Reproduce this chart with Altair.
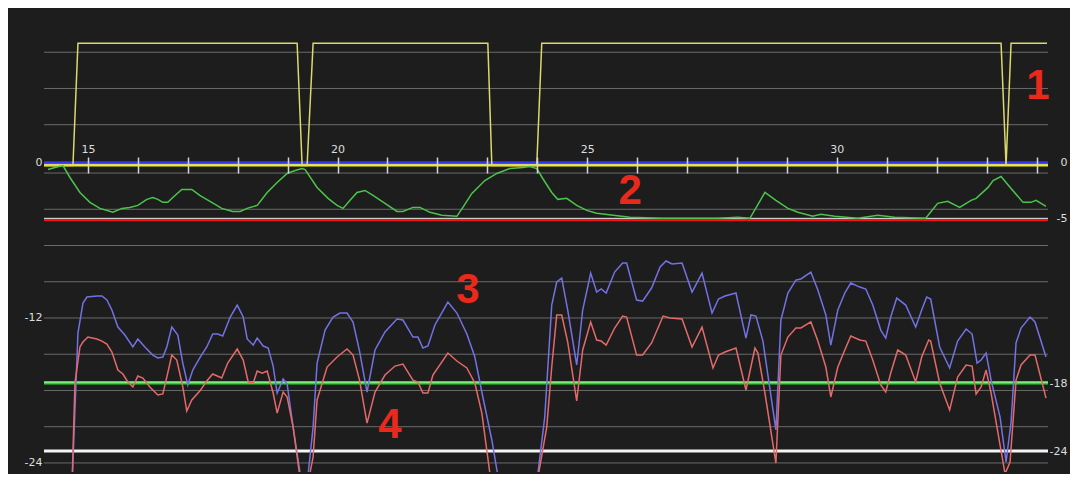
import altair as alt
import pandas as pd

# ---------------- data ----------------
gate = [(14.12, 0), (14.70, 0), (14.80, 1), (19.19, 1), (19.29, 0), (19.39, 0), (19.51, 1),
        (23.01, 1), (23.09, 0), (23.99, 0), (24.09, 1), (33.29, 1), (33.39, 0), (33.49, 1),
        (34.21, 1)]

env = [(14.20, -0.63), (14.34, -0.45), (14.50, -0.27), (14.64, -1.34), (14.84, -2.68), (15.04, -3.57),
       (15.24, -4.11), (15.50, -4.46), (15.68, -4.11), (15.84, -4.02), (16.00, -3.84), (16.18, -3.30),
       (16.30, -3.13), (16.40, -3.30), (16.50, -3.57), (16.60, -3.57), (16.70, -3.13), (16.88, -2.41),
       (17.08, -2.41), (17.24, -2.95), (17.48, -3.57), (17.68, -4.11), (17.90, -4.38), (18.05, -4.38),
       (18.19, -4.11), (18.39, -3.84), (18.59, -2.68), (18.79, -1.79), (18.99, -0.98), (19.15, -0.71),
       (19.29, -0.54), (19.35, -0.63), (19.59, -2.23), (19.81, -3.21), (19.99, -3.84), (20.11, -4.11),
       (20.25, -3.39), (20.39, -2.68), (20.55, -2.50), (20.71, -2.95), (20.95, -3.66), (21.19, -4.38),
       (21.31, -4.38), (21.51, -4.02), (21.65, -4.02), (21.85, -4.46), (22.09, -4.73), (22.39, -4.82),
       (22.51, -4.02), (22.69, -2.77), (22.95, -1.61), (23.19, -0.98), (23.45, -0.54), (23.71, -0.45),
       (23.85, -0.36), (23.99, -0.54), (24.11, -1.43), (24.29, -2.68), (24.41, -3.30), (24.59, -3.21),
       (24.79, -3.84), (24.99, -4.29), (25.19, -4.55), (25.52, -4.73), (25.86, -4.91), (26.50, -5.00),
       (27.62, -5.00), (28.02, -4.91), (28.26, -5.00), (28.56, -2.68), (28.78, -3.39), (29.02, -4.11),
       (29.22, -4.46), (29.52, -4.82), (29.68, -4.64), (29.96, -4.82), (30.42, -5.00), (30.82, -4.73),
       (31.16, -4.91), (31.78, -5.00), (32.02, -3.66), (32.22, -3.48), (32.46, -4.02), (32.69, -3.39),
       (32.79, -3.21), (33.03, -2.23), (33.13, -1.61), (33.29, -1.25), (33.49, -2.32), (33.73, -3.57),
       (33.89, -3.57), (33.99, -3.39), (34.19, -3.93)]

blue = [(14.68, -26.0), (14.80, -13.25), (14.90, -10.76), (14.98, -10.26), (15.18, -10.18), (15.28, -10.18),
        (15.38, -10.51), (15.48, -11.34), (15.60, -12.75), (15.74, -13.41), (15.90, -14.40), (16.00, -13.74),
        (16.14, -14.40), (16.30, -15.07), (16.40, -15.31), (16.50, -15.23), (16.58, -14.40), (16.68, -12.75),
        (16.80, -13.41), (16.90, -15.73), (17.00, -17.55), (17.10, -16.31), (17.24, -15.31), (17.38, -14.40),
        (17.50, -13.33), (17.60, -13.33), (17.70, -13.49), (17.85, -11.92), (17.99, -10.93), (18.11, -11.92),
        (18.19, -13.74), (18.31, -14.24), (18.39, -13.66), (18.51, -14.32), (18.61, -14.49), (18.71, -15.98),
        (18.79, -18.21), (18.91, -17.05), (18.99, -17.47), (19.11, -21.03), (19.31, -26.5), (19.37, -26.5),
        (19.51, -21.03), (19.59, -15.73), (19.75, -13.00), (19.91, -11.92), (20.05, -11.59), (20.19, -11.59),
        (20.31, -12.33), (20.44, -14.75), (20.59, -18.13), (20.75, -14.65), (20.95, -13.16), (21.19, -12.09),
        (21.31, -12.17), (21.51, -13.58), (21.61, -13.58), (21.71, -14.49), (21.81, -14.32), (21.95, -12.58),
        (22.21, -10.68), (22.39, -11.59), (22.59, -13.33), (22.75, -15.23), (22.91, -18.54), (23.09, -22.10),
        (23.29, -27.0), (23.95, -27.0), (24.15, -20.20), (24.29, -10.93), (24.39, -9.02), (24.49, -8.69),
        (24.61, -11.34), (24.79, -15.89), (24.91, -11.34), (25.07, -8.28), (25.19, -9.85), (25.28, -9.60),
        (25.38, -9.93), (25.55, -8.20), (25.71, -7.45), (25.79, -7.45), (25.99, -10.51), (26.11, -10.60),
        (26.29, -9.52), (26.46, -7.78), (26.58, -7.28), (26.70, -7.53), (26.90, -7.45), (27.10, -9.85),
        (27.30, -8.28), (27.50, -11.59), (27.63, -10.43), (27.76, -10.18), (27.98, -9.93), (28.18, -13.66),
        (28.28, -11.75), (28.38, -11.84), (28.52, -13.91), (28.78, -21.27), (28.88, -12.17), (29.02, -9.93),
        (29.18, -8.86), (29.28, -8.77), (29.48, -8.20), (29.62, -9.69), (29.78, -11.75), (29.88, -14.24),
        (30.02, -11.34), (30.16, -9.93), (30.28, -9.11), (30.46, -9.44), (30.58, -9.60), (30.72, -10.93),
        (30.88, -13.00), (30.98, -13.66), (31.08, -11.92), (31.20, -10.35), (31.38, -10.93), (31.58, -12.75),
        (31.70, -11.34), (31.80, -10.26), (31.88, -10.43), (32.06, -14.40), (32.26, -16.14), (32.42, -13.91),
        (32.59, -12.91), (32.71, -13.33), (32.81, -15.73), (32.89, -15.48), (32.99, -14.90), (33.09, -17.14),
        (33.27, -20.20), (33.39, -23.92), (33.49, -20.61), (33.59, -14.07), (33.69, -12.83), (33.87, -11.92),
        (33.97, -12.33), (34.19, -15.23)]

red = [(14.68, -26.0), (14.74, -17.38), (14.84, -14.40), (14.90, -13.99), (15.00, -13.58), (15.18, -13.74),
       (15.28, -13.91), (15.38, -14.16), (15.48, -14.82), (15.60, -16.31), (15.70, -16.64), (15.80, -17.30),
       (15.90, -17.71), (16.00, -16.80), (16.10, -16.97), (16.24, -17.71), (16.40, -18.38), (16.50, -18.29),
       (16.58, -16.89), (16.68, -15.07), (16.78, -15.48), (16.90, -17.71), (16.98, -19.70), (17.08, -18.79),
       (17.24, -18.05), (17.38, -17.22), (17.50, -16.64), (17.68, -16.97), (17.80, -15.73), (17.99, -14.57),
       (18.11, -15.48), (18.21, -17.30), (18.31, -17.38), (18.39, -16.39), (18.49, -16.56), (18.59, -16.39),
       (18.71, -18.21), (18.79, -19.87), (18.91, -18.13), (18.99, -18.54), (19.11, -21.03), (19.29, -26.5),
       (19.37, -26.5), (19.51, -23.51), (19.59, -18.79), (19.79, -16.06), (19.99, -15.23), (20.19, -14.57),
       (20.31, -15.07), (20.44, -17.14), (20.59, -20.70), (20.75, -18.13), (20.95, -16.72), (21.15, -15.98),
       (21.31, -15.81), (21.51, -17.14), (21.61, -17.30), (21.71, -18.21), (21.81, -18.21), (21.91, -16.72),
       (22.21, -14.90), (22.39, -15.56), (22.59, -16.14), (22.75, -17.38), (22.89, -19.87), (23.11, -26.7),
       (23.95, -26.7), (24.19, -21.03), (24.29, -16.06), (24.39, -11.75), (24.49, -11.75), (24.61, -13.99),
       (24.79, -18.87), (24.91, -14.65), (25.07, -12.33), (25.19, -13.83), (25.28, -13.91), (25.38, -14.24),
       (25.55, -12.83), (25.71, -11.84), (25.79, -11.92), (25.99, -15.07), (26.11, -15.07), (26.29, -14.07),
       (26.52, -11.84), (26.66, -12.00), (26.90, -12.09), (27.10, -14.40), (27.30, -12.75), (27.52, -16.14),
       (27.63, -15.07), (27.76, -14.82), (27.98, -14.49), (28.18, -17.96), (28.36, -14.49), (28.42, -14.90),
       (28.56, -18.21), (28.78, -24.01), (28.88, -15.07), (29.02, -13.58), (29.18, -12.83), (29.28, -12.83),
       (29.48, -12.33), (29.62, -13.91), (29.78, -16.06), (29.88, -18.54), (30.02, -16.06), (30.16, -14.65),
       (30.28, -13.49), (30.46, -13.82), (30.58, -13.91), (30.72, -15.48), (30.88, -17.55), (30.98, -18.13),
       (31.08, -16.56), (31.22, -14.65), (31.38, -15.07), (31.58, -17.30), (31.70, -15.23), (31.84, -13.82),
       (31.88, -13.91), (32.06, -17.38), (32.26, -19.62), (32.42, -16.89), (32.59, -15.89), (32.71, -15.98),
       (32.79, -18.29), (32.89, -17.71), (32.99, -16.31), (33.09, -18.21), (33.27, -22.52), (33.37, -24.9),
       (33.47, -23.92), (33.59, -17.14), (33.69, -15.89), (33.87, -15.07), (33.97, -15.07), (34.19, -18.63)]

grid_db = [10, 7, 4, 0, -3, -6, -9, -12, -15, -18, -21, -24]
left_db_labels = [-12, -24]
upper_marks = [0, -5]          # blue (0) and red (-5) limits of the envelope band
lower_marks = [-18, -24]       # green and white limits of the level band
x_ticks = list(range(15, 35))
note_text = ["1", "2", "3", "4"]
note_t = [34.03, 25.86, 22.61, 21.05]
note_db = [7.2, -1.49, -9.69, -20.86]

# ---------------- frames ----------------
def frame(pairs):
    return pd.DataFrame({"t": [p[0] for p in pairs], "v": [p[1] for p in pairs]})

gate_df = frame(gate)
env_df = frame(env)
blue_df = frame(blue)
red_df = frame(red)
grid_df = pd.DataFrame({"v": grid_db})
notes_df = pd.DataFrame({"t": note_t, "v": note_db, "label": note_text})

# ---------------- scales ----------------
X = alt.Scale(domain=[14.12, 34.23], nice=False, zero=False)
G = alt.Scale(domain=[-2.508, 1.2234], nice=False, zero=False)   # gate 0/1
M = alt.Scale(domain=[-27.73, 13.13], nice=False, zero=False)    # envelope band
B = alt.Scale(domain=[-24.75, 13.0], nice=False, zero=False)     # level band (left axis)
R = alt.Scale(domain=[-25.85, 14.39], nice=False, zero=False)    # level limits (right axis)

FONT = "DejaVu Sans"
LBL = "#dedede"
BG = "#1d1d1d"

def yaxis(orient, values, pad, align=None):
    kw = dict(orient=orient, values=values, ticks=False, domain=False, grid=False, title=None,
              labelColor=LBL, labelFont=FONT, labelFontSize=11, labelPadding=pad,
              labelExpr="'' + datum.value", zindex=1)
    if align:
        kw["labelAlign"] = align
    return alt.Axis(**kw)

xaxis = alt.Axis(orient="top", offset=-157, values=x_ticks, tickSize=16, tickColor="#d4d4d4",
                 tickWidth=1.5, domain=False, grid=False, title=None, labelColor=LBL,
                 labelFont=FONT, labelFontSize=11, labelPadding=3,
                 labelExpr="datum.value % 5 == 0 ? datum.label : ''", zindex=2)

grid = alt.Chart(grid_df).mark_rule(color="#6a6a6a", strokeWidth=1).encode(
    y=alt.Y("v:Q", scale=B, axis=yaxis("left", left_db_labels, 2)))

m_df = pd.DataFrame({"v": upper_marks})
r_df = pd.DataFrame({"v": lower_marks})

blue_zero = alt.Chart(m_df[m_df.v == 0]).mark_rule(color="#3434ff", strokeWidth=2.5).encode(
    y=alt.Y("v:Q", scale=M, axis=yaxis("left", [0], 2)))
zero_white = alt.Chart(m_df[m_df.v == 0]).mark_rule(color="#e8e8e8", strokeWidth=1, yOffset=1.8).encode(
    y=alt.Y("v:Q", scale=M, axis=yaxis("right", upper_marks, 19, "right")))
yellow_zero = alt.Chart(pd.DataFrame({"v": [0]})).mark_rule(color="#f2f000", strokeWidth=2.2).encode(
    y=alt.Y("v:Q", scale=G, axis=None))
floor_white = alt.Chart(m_df[m_df.v == -5]).mark_rule(color="#f0f0f0", strokeWidth=1).encode(
    y=alt.Y("v:Q", scale=M, axis=None))
floor_red = alt.Chart(m_df[m_df.v == -5]).mark_rule(color="#ff1010", strokeWidth=2, yOffset=1.6).encode(
    y=alt.Y("v:Q", scale=M, axis=None))

green_lim = alt.Chart(r_df[r_df.v == -18]).mark_rule(color="#22dd22", strokeWidth=3).encode(
    y=alt.Y("v:Q", scale=R, axis=yaxis("right", lower_marks, 19, "right")))
green_hi = alt.Chart(r_df[r_df.v == -18]).mark_rule(color="#c8ffc8", strokeWidth=1, yOffset=-1).encode(
    y=alt.Y("v:Q", scale=R, axis=None))
white_lim = alt.Chart(r_df[r_df.v == -24]).mark_rule(color="#f4f4f4", strokeWidth=3).encode(
    y=alt.Y("v:Q", scale=R, axis=None))

gate_line = alt.Chart(gate_df).mark_line(color="#dcd86e", strokeWidth=1.5).encode(
    x=alt.X("t:Q", scale=X, axis=xaxis), y=alt.Y("v:Q", scale=G, axis=None))
env_line = alt.Chart(env_df).mark_line(color="#4cc44c", strokeWidth=1.5).encode(
    x=alt.X("t:Q", scale=X, axis=None), y=alt.Y("v:Q", scale=M, axis=None))
blue_line = alt.Chart(blue_df).mark_line(color="#7272e4", strokeWidth=1.5, clip=True).encode(
    x=alt.X("t:Q", scale=X, axis=None), y=alt.Y("v:Q", scale=B, axis=None))
red_line = alt.Chart(red_df).mark_line(color="#e46a6a", strokeWidth=1.5, clip=True).encode(
    x=alt.X("t:Q", scale=X, axis=None), y=alt.Y("v:Q", scale=B, axis=None))

notes = alt.Chart(notes_df).mark_text(font="Liberation Sans", fontWeight="bold", fontSize=42,
                                      color="#e8291c", align="center", baseline="middle").encode(
    x=alt.X("t:Q", scale=X, axis=None), y=alt.Y("v:Q", scale=B, axis=None), text="label:N")

chart = alt.layer(
    grid, white_lim, green_lim, green_hi, floor_white, floor_red,
    blue_zero, zero_white, yellow_zero,
    gate_line, env_line, blue_line, red_line, notes
).resolve_scale(y="independent").resolve_axis(x="independent", y="independent").properties(
    width=1004, height=456,
    padding={"left": 36, "top": 8, "right": 22, "bottom": 2},
    autosize=alt.AutoSizeParams(type="none"),
    background=BG,
).configure_view(stroke=None)

chart.save("out.html", embed_options={"renderer": "svg", "actions": False})
